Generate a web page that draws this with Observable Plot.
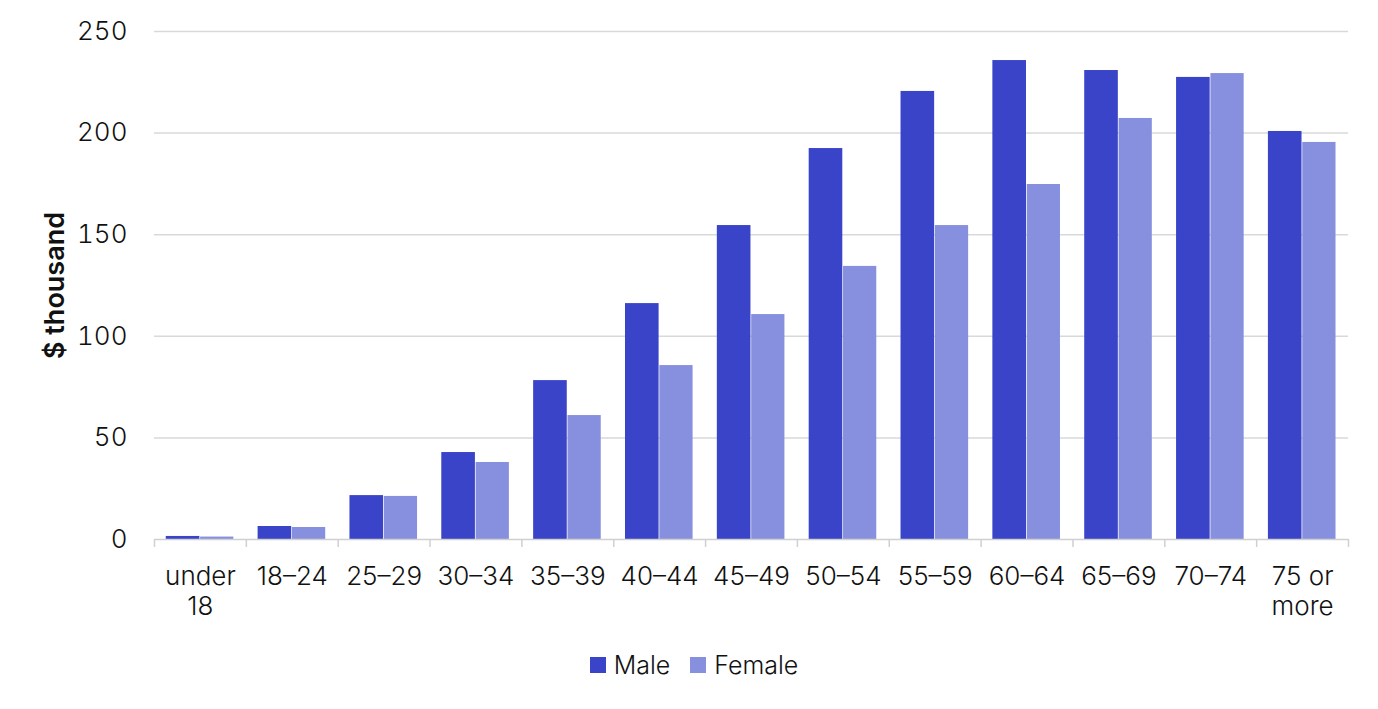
<!DOCTYPE html>
<html>
<head>
<meta charset="utf-8">
<script src="https://cdn.jsdelivr.net/npm/d3@7"></script>
<script src="https://cdn.jsdelivr.net/npm/@observablehq/plot@0.6"></script>
<style>
  body { margin: 0; background: #fff; font-family: Inter, "Noto Sans", sans-serif; }
  #chart svg { display: block; }
  #chart [aria-label="y-axis label"] text, #chart [aria-label="y-axis label"] { font-weight: 600; font-size: 27px; }
  .legend { display: flex; justify-content: center; align-items: center; gap: 20px; font-size: 25px; font-weight: 300; color: #111; padding-top: 20px; padding-left: 10px; }
  .legend span.item { display: flex; align-items: center; gap: 8px; }
  .legend span.sw { width: 16px; height: 16px; display: inline-block; }
</style>
</head>
<body>
<div id="chart"></div>
<script>
const ages = ["under 18", "18–24", "25–29", "30–34", "35–39", "40–44", "45–49", "50–54", "55–59", "60–64", "65–69", "70–74", "75 or more"];
const ageLabels = ["under\n18", "18–24", "25–29", "30–34", "35–39", "40–44", "45–49", "50–54", "55–59", "60–64", "65–69", "70–74", "75 or\nmore"];
const male = [1.5, 6.4, 21.6, 42.8, 78.2, 116.1, 154.5, 192.4, 220.5, 235.7, 230.8, 227.4, 200.8];
const female = [1.2, 5.9, 21.2, 37.9, 61.0, 85.6, 110.7, 134.4, 154.5, 174.7, 207.2, 229.3, 195.4];
const series = ["Male", "Female"];
const colors = ["#3944c8", "#8790df"];
const yTicks = [0, 50, 100, 150, 200, 250];

const W = 1378, H = 630, ML = 154, MR = 30, MT = 31, MB = 91;
const bw = (W - ML - MR) / ages.length;
const maleData = ages.map((a, i) => ({age: a, value: male[i]}));
const femaleData = ages.map((a, i) => ({age: a, value: female[i]}));
const labelOf = new Map(ages.map((a, i) => [a, ageLabels[i]]));
const FS = 26;

const plot = Plot.plot({
  width: W, height: H,
  marginLeft: ML, marginRight: MR, marginTop: MT, marginBottom: MB,
  style: {fontFamily: "Inter, 'Noto Sans', sans-serif", fontSize: FS + "px", fontWeight: 300, color: "#111", background: "#fff"},
  x: {domain: ages, padding: 0, round: false},
  y: {domain: [0, 250]},
  marks: [
    Plot.gridY(yTicks.filter(d => d > 0), {stroke: "#d9d9d9", strokeOpacity: 1, strokeWidth: 1.5}),
    Plot.barY(maleData, {x: "age", y: "value", fill: colors[0], insetLeft: bw * 0.128, insetRight: bw * 0.506}),
    Plot.barY(femaleData, {x: "age", y: "value", fill: colors[1], insetLeft: bw * 0.502, insetRight: bw * 0.136}),
    Plot.ruleY([0], {stroke: "#d0d0d0", strokeWidth: 1.5}),
    Plot.axisX({tickSize: 8, tickFormat: () => "", stroke: "#d0d0d0", strokeWidth: 1.5, dx: -bw / 2, label: null}),
    Plot.axisX({ticks: [ages[ages.length - 1]], tickSize: 8, tickFormat: () => "", stroke: "#d0d0d0", strokeWidth: 1.5, dx: bw / 2, label: null}),
    Plot.axisX({tickSize: 0, tickPadding: 24, tickFormat: d => labelOf.get(d), lineHeight: 1.15, fontSize: FS, fill: "#111", label: null}),
    Plot.axisY({ticks: yTicks, tickSize: 0, tickPadding: 27, fontSize: FS, fill: "#111", label: "$ thousand", labelAnchor: "center", labelArrow: "none", labelOffset: 110})
  ]
});
document.getElementById("chart").appendChild(plot);

const legend = document.createElement("div");
legend.className = "legend";
series.forEach((s, i) => {
  const it = document.createElement("span");
  it.className = "item";
  const sw = document.createElement("span");
  sw.className = "sw";
  sw.style.background = colors[i];
  const t = document.createElement("span");
  t.textContent = s;
  it.appendChild(sw); it.appendChild(t);
  legend.appendChild(it);
});
document.getElementById("chart").appendChild(legend);
</script>
</body>
</html>
